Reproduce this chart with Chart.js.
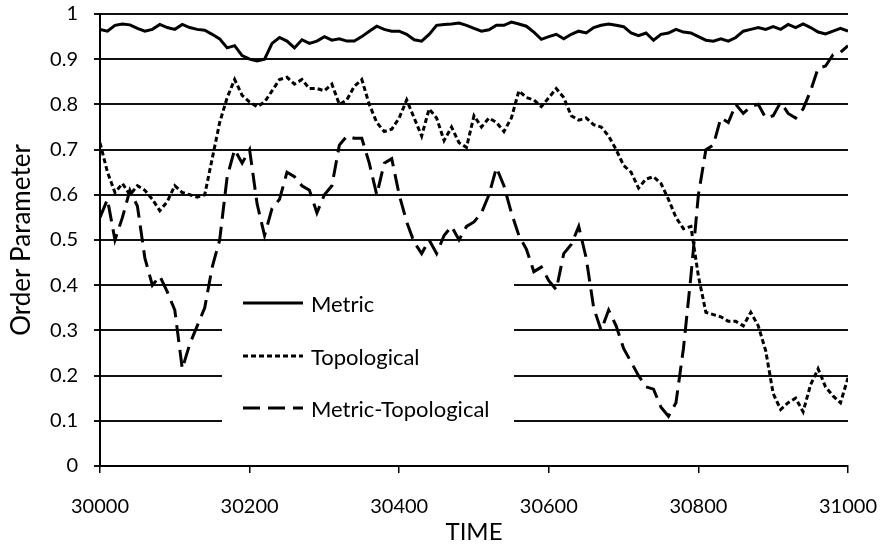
<!DOCTYPE html>
<html>
<head>
<meta charset="utf-8">
<title>Order Parameter vs TIME</title>
<script src="https://cdn.jsdelivr.net/npm/chart.js@4.4.1/dist/chart.umd.min.js"></script>
<style>
    body { margin: 0; background: #fff; }
    #chart { display: block; }
</style>
</head>
<body>
<canvas id="chart" width="886" height="553"></canvas>
<script>
// Data (one value every 10 time steps)
const timeSteps = [
    30000, 30010, 30020, 30030, 30040, 30050, 30060, 30070, 30080, 30090,
    30100, 30110, 30120, 30130, 30140, 30150, 30160, 30170, 30180, 30190,
    30200, 30210, 30220, 30230, 30240, 30250, 30260, 30270, 30280, 30290,
    30300, 30310, 30320, 30330, 30340, 30350, 30360, 30370, 30380, 30390,
    30400, 30410, 30420, 30430, 30440, 30450, 30460, 30470, 30480, 30490,
    30500, 30510, 30520, 30530, 30540, 30550, 30560, 30570, 30580, 30590,
    30600, 30610, 30620, 30630, 30640, 30650, 30660, 30670, 30680, 30690,
    30700, 30710, 30720, 30730, 30740, 30750, 30760, 30770, 30780, 30790,
    30800, 30810, 30820, 30830, 30840, 30850, 30860, 30870, 30880, 30890,
    30900, 30910, 30920, 30930, 30940, 30950, 30960, 30970, 30980, 30990,
    31000
];

const metricValues = [
    0.966, 0.962, 0.975, 0.978, 0.976, 0.968, 0.962, 0.966, 0.977, 0.970,
    0.966, 0.977, 0.970, 0.966, 0.964, 0.955, 0.945, 0.925, 0.930, 0.908,
    0.900, 0.896, 0.900, 0.935, 0.948, 0.940, 0.925, 0.943, 0.935, 0.940,
    0.950, 0.942, 0.945, 0.940, 0.940, 0.950, 0.962, 0.973, 0.966, 0.962,
    0.962, 0.955, 0.943, 0.940, 0.955, 0.975, 0.977, 0.978, 0.980, 0.975,
    0.968, 0.962, 0.965, 0.975, 0.975, 0.982, 0.978, 0.973, 0.960, 0.944,
    0.950, 0.955, 0.945, 0.955, 0.962, 0.958, 0.970, 0.975, 0.978, 0.975,
    0.972, 0.958, 0.952, 0.958, 0.942, 0.955, 0.958, 0.966, 0.960, 0.958,
    0.950, 0.942, 0.940, 0.945, 0.940, 0.948, 0.962, 0.966, 0.970, 0.966,
    0.972, 0.966, 0.977, 0.970, 0.978, 0.970, 0.960, 0.956, 0.962, 0.968,
    0.962
];

const topologicalValues = [
    0.715, 0.650, 0.605, 0.625, 0.600, 0.620, 0.610, 0.590, 0.565, 0.585,
    0.620, 0.605, 0.600, 0.595, 0.600, 0.680, 0.760, 0.815, 0.855, 0.820,
    0.805, 0.795, 0.805, 0.830, 0.855, 0.860, 0.845, 0.855, 0.835, 0.835,
    0.830, 0.845, 0.800, 0.810, 0.840, 0.855, 0.800, 0.760, 0.740, 0.745,
    0.770, 0.810, 0.770, 0.730, 0.790, 0.770, 0.720, 0.750, 0.715, 0.705,
    0.775, 0.750, 0.770, 0.760, 0.740, 0.770, 0.830, 0.815, 0.810, 0.795,
    0.815, 0.835, 0.815, 0.775, 0.765, 0.770, 0.755, 0.750, 0.730, 0.700,
    0.665, 0.650, 0.615, 0.635, 0.640, 0.625, 0.590, 0.550, 0.525, 0.530,
    0.420, 0.340, 0.335, 0.330, 0.320, 0.320, 0.310, 0.340, 0.310, 0.255,
    0.160, 0.125, 0.140, 0.150, 0.120, 0.180, 0.215, 0.175, 0.155, 0.140,
    0.195
];

const metricTopoValues = [
    0.550, 0.590, 0.500, 0.550, 0.610, 0.575, 0.460, 0.400, 0.420, 0.385,
    0.345, 0.215, 0.270, 0.310, 0.350, 0.440, 0.500, 0.640, 0.700, 0.670,
    0.700, 0.580, 0.510, 0.570, 0.590, 0.650, 0.640, 0.620, 0.610, 0.560,
    0.600, 0.620, 0.710, 0.730, 0.725, 0.725, 0.670, 0.600, 0.670, 0.680,
    0.600, 0.540, 0.495, 0.470, 0.500, 0.470, 0.510, 0.530, 0.500, 0.530,
    0.540, 0.560, 0.600, 0.660, 0.620, 0.560, 0.510, 0.480, 0.430, 0.440,
    0.410, 0.390, 0.470, 0.490, 0.530, 0.460, 0.350, 0.300, 0.345, 0.310,
    0.260, 0.230, 0.200, 0.175, 0.170, 0.130, 0.110, 0.140, 0.260, 0.420,
    0.600, 0.700, 0.710, 0.770, 0.760, 0.800, 0.780, 0.795, 0.800, 0.770,
    0.775, 0.805, 0.780, 0.770, 0.790, 0.830, 0.880, 0.885, 0.910, 0.915,
    0.930
];

const seriesLabels = ['Metric', 'Topological', 'Metric-Topological'];
const seriesDashes = [[], [5, 3], [17, 8]];

const FONT = 'Lato, "Open Sans", sans-serif';

// Build {x, y} points from the named arrays
function toPoints(values) {
    return timeSteps.map((t, i) => ({ x: t, y: values[i] }));
}

// Legend drawn inside the plot, on a white box that hides the grid lines
const insideLegend = {
    id: 'insideLegend',
    beforeDatasetsDraw(chart) {
        const ctx = chart.ctx;
        ctx.save();
        ctx.fillStyle = '#fff';
        ctx.fillRect(222, 262, 292, 188);

        const rowsY = [303, 356, 408];
        ctx.strokeStyle = '#000';
        ctx.lineWidth = 3;
        ctx.font = '22px ' + FONT;
        ctx.fillStyle = '#000';
        ctx.textBaseline = 'middle';
        seriesLabels.forEach((label, i) => {
            ctx.setLineDash(seriesDashes[i]);
            ctx.beginPath();
            ctx.moveTo(243, rowsY[i]);
            ctx.lineTo(303, rowsY[i]);
            ctx.stroke();
            ctx.setLineDash([]);
            ctx.fillText(label, 311, rowsY[i] + 2);
        });
        ctx.restore();
    }
};

const ctx = document.getElementById('chart').getContext('2d');
const chart = new Chart(ctx, {
    type: 'line',
    data: {
        datasets: [metricValues, topologicalValues, metricTopoValues].map((values, i) => ({
            label: seriesLabels[i],
            data: toPoints(values),
            borderColor: '#000',
            borderWidth: 3,
            borderDash: seriesDashes[i],
            pointRadius: 0,
            tension: 0,
            fill: false
        }))
    },
    options: {
        responsive: false,
        animation: false,
        layout: {
            padding: { top: 14, right: 38, left: 0, bottom: 0 }
        },
        plugins: {
            legend: { display: false },
            tooltip: { enabled: false }
        },
        scales: {
            x: {
                type: 'linear',
                min: 30000,
                max: 31000,
                afterFit: scale => {
                    scale.height = 87;
                    scale.paddingLeft = 0;
                    scale.paddingRight = 0;
                },
                ticks: {
                    stepSize: 200,
                    color: '#000',
                    padding: 22,
                    maxRotation: 0,
                    font: { family: FONT, size: 20 },
                    callback: value => String(value)
                },
                grid: {
                    drawOnChartArea: false,
                    color: '#000',
                    lineWidth: 1.5,
                    tickLength: 7
                },
                border: { color: '#000', width: 2 },
                title: {
                    display: true,
                    text: 'TIME',
                    color: '#000',
                    font: { family: FONT, size: 24 },
                    padding: { top: 0, bottom: 6 }
                }
            },
            y: {
                min: 0,
                max: 1,
                afterFit: scale => {
                    scale.width = 100;
                    scale.paddingTop = 0;
                    scale.paddingBottom = 0;
                },
                ticks: {
                    stepSize: 0.1,
                    color: '#000',
                    padding: 16,
                    font: { family: FONT, size: 20 },
                    callback: value => String(Number(value.toFixed(1)))
                },
                grid: {
                    color: '#111',
                    lineWidth: 2,
                    tickLength: 6
                },
                border: { color: '#000', width: 2 },
                title: {
                    display: true,
                    text: 'Order Parameter',
                    color: '#000',
                    font: { family: FONT, size: 26 },
                    padding: { top: 6, bottom: 0 }
                }
            }
        }
    },
    plugins: [insideLegend]
});
</script>
</body>
</html>
